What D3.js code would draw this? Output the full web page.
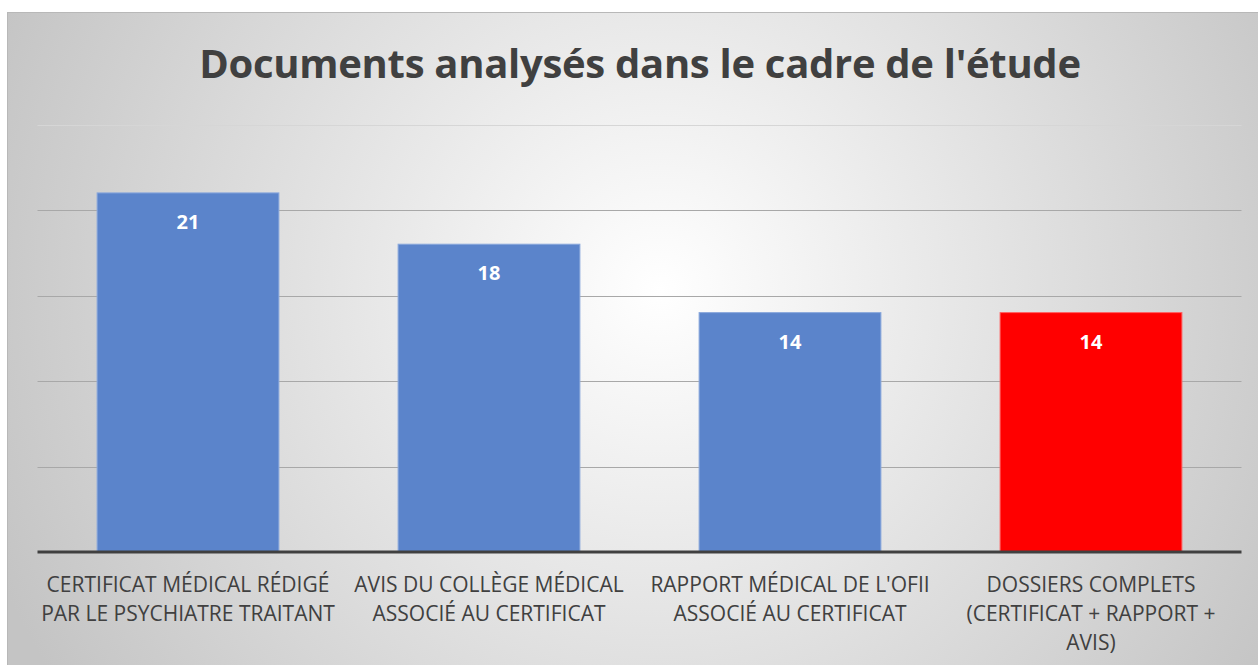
<!DOCTYPE html>
<html>
<head>
<meta charset="utf-8">
<script src="https://cdn.jsdelivr.net/npm/d3@7/dist/d3.min.js"></script>
<style>
  body { margin: 0; background: #fff; }
  svg { display: block; }
</style>
</head>
<body>
<svg id="chart" width="1258" height="665"></svg>
<script>
// chart data
const categories = [
  ["CERTIFICAT MÉDICAL RÉDIGÉ", "PAR LE PSYCHIATRE TRAITANT"],
  ["AVIS DU COLLÈGE MÉDICAL", "ASSOCIÉ AU CERTIFICAT"],
  ["RAPPORT MÉDICAL DE L'OFII", "ASSOCIÉ AU CERTIFICAT"],
  ["DOSSIERS COMPLETS", "(CERTIFICAT + RAPPORT +", "AVIS)"]
];
const values = [21, 18, 14, 14];
const barColors = ["#5b84cb", "#5b84cb", "#5b84cb", "#ff0000"];
const yTicks = [0, 5, 10, 15, 20, 25];
const title = "Documents analysés dans le cadre de l'étude";

const svg = d3.select("#chart");

// background with radial gradient
const defs = svg.append("defs");
const grad = defs.append("radialGradient")
  .attr("id", "bg")
  .attr("gradientUnits", "userSpaceOnUse")
  .attr("cx", 660).attr("cy", 290).attr("r", 720);
grad.append("stop").attr("offset", "0%").attr("stop-color", "#ffffff");
grad.append("stop").attr("offset", "100%").attr("stop-color", "#c4c4c4");

svg.append("rect")
  .attr("x", 7.5).attr("y", 12.5)
  .attr("width", 1258).attr("height", 665)
  .attr("fill", "url(#bg)")
  .attr("stroke", "#b8b8b8");

const x = d3.scaleBand()
  .domain(d3.range(categories.length))
  .range([37.5, 1241.5])
  .paddingInner(0.396)
  .paddingOuter(0.198);

const y = d3.scaleLinear()
  .domain([0, 25])
  .range([552, 124.5]);

// gridlines
svg.append("g")
  .selectAll("line")
  .data(yTicks.slice(1))
  .join("line")
  .attr("x1", 37.5).attr("x2", 1241.5)
  .attr("y1", d => Math.round(y(d)) + 0.5)
  .attr("y2", d => Math.round(y(d)) + 0.5)
  .attr("stroke", d => d === 25 ? "#d6d6d6" : "#a8a8a8")
  .attr("stroke-width", 1);

// bars
svg.append("g")
  .selectAll("rect")
  .data(values)
  .join("rect")
  .attr("x", (d, i) => x(i))
  .attr("y", d => y(d))
  .attr("width", x.bandwidth())
  .attr("height", d => y(0) - y(d))
  .attr("fill", (d, i) => barColors[i])
  .attr("stroke", (d, i) => i === 3 ? "#ff6060" : "#8aa8dc")
  .attr("stroke-width", 1);

// value labels
svg.append("g")
  .selectAll("text")
  .data(values)
  .join("text")
  .attr("x", (d, i) => x(i) + x.bandwidth() / 2)
  .attr("y", d => y(d) + 36)
  .attr("text-anchor", "middle")
  .attr("font-family", "'Open Sans', sans-serif")
  .attr("font-weight", "bold")
  .attr("font-size", 20)
  .attr("fill", "#ffffff")
  .text(d => d);

// baseline
svg.append("line")
  .attr("x1", 37.5).attr("x2", 1241.5)
  .attr("y1", y(0)).attr("y2", y(0))
  .attr("stroke", "#404040")
  .attr("stroke-width", 3);

// category labels
const cat = svg.append("g")
  .selectAll("text")
  .data(categories)
  .join("text")
  .attr("x", (d, i) => x(i) + x.bandwidth() / 2)
  .attr("y", 592)
  .attr("text-anchor", "middle")
  .attr("font-family", "'Open Sans', sans-serif")
  .attr("font-size", 21)
  .attr("letter-spacing", 0)
  .attr("fill", "#404040");
cat.selectAll("tspan")
  .data(d => d)
  .join("tspan")
  .attr("x", function() { return d3.select(this.parentNode).attr("x"); })
  .attr("dy", (d, i) => i === 0 ? 0 : 29)
  .text(d => d);

// title
svg.append("text")
  .attr("x", 640)
  .attr("y", 78)
  .attr("text-anchor", "middle")
  .attr("font-family", "'Open Sans', sans-serif")
  .attr("font-weight", "bold")
  .attr("font-size", 40)
  .attr("letter-spacing", -0.3)
  .attr("fill", "#404040")
  .text(title);
</script>
</body>
</html>
